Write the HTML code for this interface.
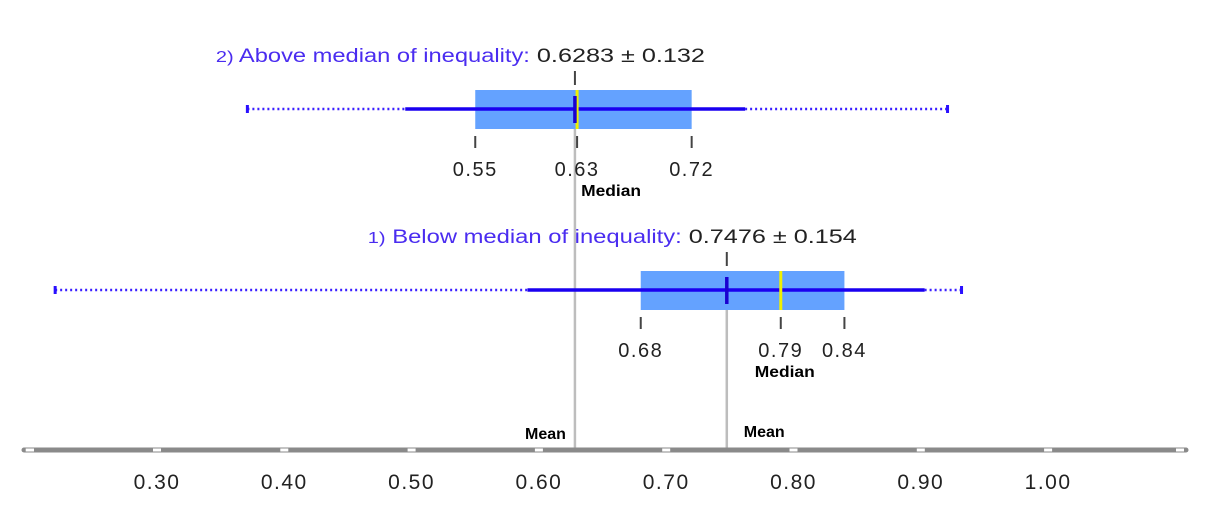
<!DOCTYPE html>
<html><head><meta charset="utf-8"><style>
html,body{margin:0;padding:0;background:#fff;}
svg{display:block;font-family:"Liberation Sans",Arial,sans-serif;}
</style></head><body>
<svg id="chart" width="1208" height="506"></svg>
<script>
const groupNames = ["2) Above median of inequality:", "1) Below median of inequality:"];
const means = [0.6283, 0.7476];
const sds = [0.132, 0.154];
const mins = [0.371, 0.22];
const whiskerLo = [0.495, 0.591];
const q1s = [0.55, 0.68];
const medians = [0.63, 0.79];
const q3s = [0.72, 0.84];
const whiskerHi = [0.762, 0.903];
const maxs = [0.921, 0.932];
const tickValues = [0.2, 0.3, 0.4, 0.5, 0.6, 0.7, 0.8, 0.9, 1.0];
const tickLabels = ["", "0.30", "0.40", "0.50", "0.60", "0.70", "0.80", "0.90", "1.00"];

const NS = "http://www.w3.org/2000/svg";
const svg = document.getElementById("chart");
const x = v => 157 + (v - 0.3) * 1273;
const centers = [109, 290];
const axisY = 450;
function mk(tag, attrs, parent) {
  const e = document.createElementNS(NS, tag);
  for (const k in attrs) e.setAttribute(k, attrs[k]);
  (parent || svg).appendChild(e);
  return e;
}
function txt(s, X, Y, attrs, parent) {
  const t = mk("text", Object.assign({x: X, y: Y}, attrs), parent);
  t.textContent = s;
  return t;
}

for (let i = 0; i < 2; i++) {
  const l = mk("line", {x1: x(means[i]), x2: x(means[i]), y1: centers[i] + 20, y2: axisY, stroke: "#bdbdbd", "stroke-width": 2.5});
  
  
}

const ax = mk("g", {});


mk("line", {x1: 24, x2: 1186, y1: axisY, y2: axisY, stroke: "#8a8a8a", "stroke-width": 5, "stroke-linecap": "round"}, ax);
tickValues.forEach((v, i) => {
  const r = mk("rect", {x: x(v) - 4, y: axisY - 1.5, width: 8, height: 3, fill: "#fff"}, ax);
  
  
  if (tickLabels[i]) {
    const t = txt(tickLabels[i], x(v), axisY + 39, {"text-anchor": "middle", "font-size": 21, "letter-spacing": 1.5, fill: "#222"}, ax);
    
    
  }
});
mk("rect", {x: 26, y: axisY - 1.5, width: 8, height: 3, fill: "#fff"}, ax);
mk("rect", {x: 1176, y: axisY - 1.5, width: 8, height: 3, fill: "#fff"}, ax);

for (let i = 0; i < 2; i++) {
  const cy = centers[i];
  const g = mk("g", {});
  
  
  const tEnd = x(means[i]) - 45;
  const title = mk("text", {x: tEnd - 314, y: cy - 47, "font-size": 19, fill: "#4a2cf0", textLength: 314, lengthAdjust: "spacingAndGlyphs"}, g);
  
  
  const num = groupNames[i].slice(0, 2), rest = groupNames[i].slice(2);
  const ts = mk("tspan", {"font-size": 16}, title); ts.textContent = num;
  const ts2 = mk("tspan", {}, title); ts2.textContent = rest;
  const mv = txt(means[i].toFixed(4) + " \u00b1 " + sds[i], x(means[i]) - 38, cy - 47, {"font-size": 19, fill: "#222", textLength: 168, lengthAdjust: "spacingAndGlyphs"}, g);
  
  
  mk("line", {x1: x(mins[i]), x2: x(whiskerLo[i]), y1: cy, y2: cy, stroke: "#3a1fff", "stroke-width": 2.5, "stroke-dasharray": "2 3"}, g);
  mk("line", {x1: x(whiskerHi[i]), x2: x(maxs[i]), y1: cy, y2: cy, stroke: "#3a1fff", "stroke-width": 2.5, "stroke-dasharray": "2 3"}, g);
  mk("rect", {x: x(mins[i]) - 1.5, y: cy - 4, width: 3, height: 8, fill: "#2a10ff"}, g);
  mk("rect", {x: x(maxs[i]) - 1.5, y: cy - 4, width: 3, height: 8, fill: "#2a10ff"}, g);
  const box = mk("rect", {x: x(q1s[i]), y: cy - 19, width: x(q3s[i]) - x(q1s[i]), height: 39, fill: "#64a2ff"}, g);
  
  
  mk("line", {x1: x(whiskerLo[i]), x2: x(whiskerHi[i]), y1: cy, y2: cy, stroke: "#1a00f0", "stroke-width": 3.5}, g);
  const md = mk("line", {x1: x(medians[i]), x2: x(medians[i]), y1: cy - 19, y2: cy + 20, stroke: "#f0f000", "stroke-width": 3}, g);
  
  
  mk("line", {x1: x(means[i]), x2: x(means[i]), y1: cy - 13, y2: cy + 14, stroke: "#1a00d0", "stroke-width": 3.5}, g);
  mk("line", {x1: x(means[i]), x2: x(means[i]), y1: cy - 38, y2: cy - 24, stroke: "#444", "stroke-width": 2}, g);
  [q1s[i], medians[i], q3s[i]].forEach(v => {
    mk("line", {x1: x(v), x2: x(v), y1: cy + 27, y2: cy + 39, stroke: "#444", "stroke-width": 2}, g);
    const t = txt(v.toFixed(2), x(v), cy + 67, {"text-anchor": "middle", "font-size": 20, "letter-spacing": 1.5, fill: "#222"}, g);
    
    
  });
  const ml = txt("Median", x(medians[i]) - 26 + (i === 0 ? 30 : 0), cy + 87, {"font-size": 16, "font-weight": "bold", fill: "#000", textLength: 60, lengthAdjust: "spacingAndGlyphs"}, g);
  
  
}
const m1 = txt("Mean", x(means[0]) - 9, 439, {"font-size": 16, "font-weight": "bold", "text-anchor": "end", fill: "#000"});


const m2 = txt("Mean", x(means[1]) + 17, 437, {"font-size": 16, "font-weight": "bold", fill: "#000"});


</script>
</body></html>
